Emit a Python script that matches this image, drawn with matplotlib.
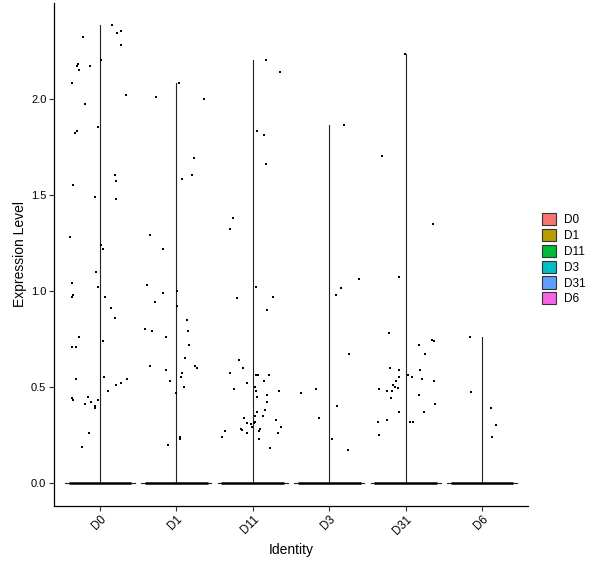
import matplotlib
matplotlib.use('Agg')
import matplotlib.pyplot as plt
from matplotlib.patches import Patch

plt.rcParams['font.family'] = ['Liberation Sans', 'DejaVu Sans']

groups = ['D0', 'D1', 'D11', 'D3', 'D31', 'D6']
colors = ['#F8766D', '#B79F00', '#00BA38', '#00BFC4', '#619CFF', '#F564E3']

d0_vals = [2.38, 2.35, 2.34, 2.32, 2.28, 2.20, 2.17, 2.18, 2.15, 2.17, 2.08, 2.02, 1.97,
           1.85, 1.83, 1.82, 1.60, 1.57, 1.55, 1.49, 1.48, 1.28, 1.24, 1.22, 1.10, 1.04,
           1.02, 0.97, 0.98, 0.97, 0.91, 0.86, 0.76, 0.74, 0.71, 0.708, 0.54, 0.55, 0.54,
           0.52, 0.51, 0.48, 0.45, 0.44, 0.43, 0.43, 0.42, 0.41, 0.40, 0.39, 0.26, 0.19]
d0_jit = [0.16, 0.28, 0.23, -0.22, 0.28, 0.02, -0.30, -0.28, -0.27, -0.13, -0.36, 0.34, -0.20,
          -0.02, -0.30, -0.33, 0.20, 0.21, -0.35, -0.06, 0.21, -0.39, 0.01, 0.04, -0.05, -0.36,
          -0.03, -0.37, -0.35, 0.07, 0.15, 0.20, -0.27, 0.04, -0.37, -0.31, -0.31, 0.06, 0.36,
          0.27, 0.21, 0.10, -0.16, -0.36, -0.35, -0.02, -0.11, -0.20, -0.06, -0.07, -0.14, -0.24]

d1_vals = [2.08, 2.01, 2.00, 1.69, 1.60, 1.58, 1.29, 1.22, 1.03, 0.99, 1.00, 0.94, 0.92,
           0.85, 0.80, 0.79, 0.79, 0.76, 0.72, 0.65, 0.61, 0.61, 0.60, 0.59, 0.57, 0.55,
           0.53, 0.50, 0.47, 0.24, 0.23, 0.20]
d1_jit = [0.04, -0.26, 0.36, 0.23, 0.21, 0.08, -0.34, -0.18, -0.39, -0.18, 0.01, -0.28, 0.01,
          0.14, -0.41, -0.32, 0.15, -0.13, 0.17, 0.12, -0.34, 0.25, 0.27, -0.13, 0.08, 0.06,
          -0.08, 0.10, 0.00, 0.05, 0.05, -0.11]

d11_vals = [2.20, 2.14, 1.83, 1.81, 1.66, 1.38, 1.32, 1.02, 0.97, 0.96, 0.90, 0.64, 0.60,
            0.57, 0.56, 0.56, 0.56, 0.53, 0.52, 0.50, 0.49, 0.48, 0.48, 0.45, 0.46, 0.42,
            0.38, 0.37, 0.35, 0.35, 0.34, 0.33, 0.32, 0.31, 0.31, 0.308, 0.29, 0.29, 0.28,
            0.277, 0.28, 0.27, 0.27, 0.26, 0.26, 0.24, 0.23, 0.18]
d11_jit = [0.17, 0.36, 0.06, 0.15, 0.17, -0.26, -0.30, 0.04, 0.27, -0.21, 0.19, -0.18, -0.13,
           -0.30, 0.04, 0.07, 0.21, 0.15, -0.07, 0.03, -0.24, 0.04, 0.34, 0.06, 0.19, 0.19,
           0.16, 0.06, 0.03, 0.13, -0.11, 0.30, 0.03, 0.02, -0.07, -0.02, -0.01, 0.37, -0.15,
           -0.14, 0.10, -0.36, 0.08, 0.33, -0.07, -0.40, 0.08, 0.23]

d3_vals = [1.86, 1.06, 1.015, 0.98, 0.67, 0.49, 0.47, 0.40, 0.34, 0.23, 0.17]
d3_jit = [0.19, 0.39, 0.15, 0.09, 0.26, -0.17, -0.37, 0.10, -0.13, 0.04, 0.24]

d31_vals = [2.23, 1.70, 1.35, 1.07, 0.78, 0.745, 0.74, 0.72, 0.67, 0.60, 0.59, 0.59, 0.56,
            0.55, 0.55, 0.54, 0.53, 0.53, 0.51, 0.50, 0.495, 0.49, 0.48, 0.48, 0.46, 0.44,
            0.41, 0.37, 0.37, 0.33, 0.32, 0.32, 0.32, 0.25]
d31_jit = [-0.01, -0.31, 0.36, -0.09, -0.22, 0.34, 0.37, 0.17, 0.25, -0.21, -0.09, 0.19, 0.03,
           0.08, -0.09, 0.22, -0.13, 0.37, -0.17, -0.14, -0.10, -0.35, -0.25, -0.18, 0.17, -0.19,
           0.38, -0.09, 0.24, -0.25, -0.36, 0.05, 0.09, -0.35]

d6_vals = [0.76, 0.475, 0.39, 0.30, 0.24]
d6_jit = [-0.16, -0.15, 0.11, 0.18, 0.13]

values = [d0_vals, d1_vals, d11_vals, d3_vals, d31_vals, d6_vals]
jitters = [d0_jit, d1_jit, d11_jit, d3_jit, d31_jit, d6_jit]

y_ticks = [0.0, 0.5, 1.0, 1.5, 2.0]

fig = plt.figure(figsize=(6, 5.68), dpi=100)
ax = fig.add_axes([0.09, 0.1092, 0.79, 0.8856])

for i, (vals, jit) in enumerate(zip(values, jitters)):
    vmax = max(vals)
    # collapsed violin outline at zero
    ax.plot([i - 0.457, i + 0.457], [0, 0], color='#222222', lw=0.8, zorder=2)
    # vertical violin sliver
    ax.plot([i, i], [0, vmax], color='#222222', lw=0.8, zorder=2)
    # dense band of zero-valued cells
    ax.plot([i - 0.41, i + 0.41], [0, 0], color='black', lw=1.8,
            solid_capstyle='butt', zorder=3)
    ax.scatter([i + j for j in jit], vals, s=2.2, marker='s', c='black',
               linewidths=0, zorder=4)

ax.set_xlim(-0.6, len(groups) - 0.4)
ax.set_ylim(-0.119, 2.497)
ax.set_xticks(range(len(groups)))
ax.set_xticklabels(groups, rotation=45, ha='right', va='top',
                   rotation_mode='anchor', fontsize=8.3)
ax.set_yticks(y_ticks)
ax.set_yticklabels([f'{t:.1f}' for t in y_ticks], fontsize=8)
ax.tick_params(axis='both', length=3.5, width=0.8, color='#333333', pad=2)

for side in ['top', 'right']:
    ax.spines[side].set_visible(False)
for side in ['left', 'bottom']:
    ax.spines[side].set_linewidth(0.9)
    ax.spines[side].set_color('black')

ax.set_xlabel('Identity', fontsize=10, labelpad=4)
ax.set_ylabel('Expression Level', fontsize=10, labelpad=3)

handles = [Patch(facecolor=c, edgecolor='#333333', linewidth=0.8) for c in colors]
fig.legend(handles, groups, loc='upper left', bbox_to_anchor=(542 / 600, 1 - 213 / 568),
           frameon=False, fontsize=8.5, handlelength=1.2, handleheight=1.2,
           labelspacing=0.24, handletextpad=0.7, borderpad=0, borderaxespad=0)

fig.savefig('out.png', dpi=100)
